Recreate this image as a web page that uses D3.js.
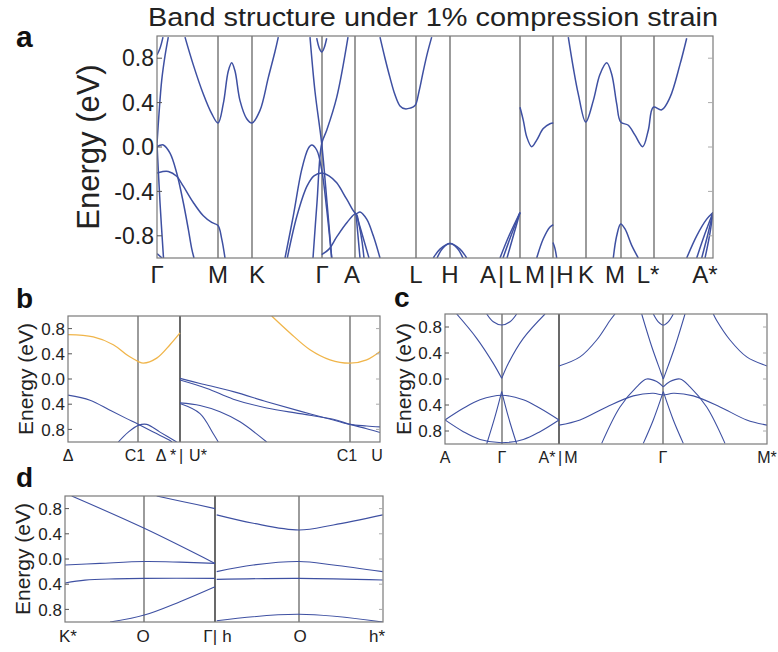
<!DOCTYPE html>
<html>
<head>
<meta charset="utf-8">
<script src="https://cdn.jsdelivr.net/npm/d3@7"></script>
<style>
  body { margin: 0; background: #fff; }
  svg { display: block; font-family: "Liberation Sans", Arial, sans-serif; }
</style>
</head>
<body>
<div id="chart"></div>
<script>
// ---- data (k = position along the k-path, E = energy in eV) ----
const yTicks = [-0.8, -0.4, 0, 0.4, 0.8];
const yTickLabelsA = ["-0.8", "-0.4", "0.0", "0.4", "0.8"];
const yTickLabelsSmall = ["0.8", "0.4", "0.0", "0.4", "0.8"];

// panel a
const kLinesA = [61, 95, 165, 198, 259, 293, 363, 396, 429, 464, 497];
const kLabelsA = [["Γ", 0], ["M", 61], ["K", 100], ["Γ", 165], ["A", 195], ["L", 259], ["H", 293],
  ["A", 331], ["|", 344], ["L", 358], ["M", 378], ["|", 395], ["H", 408], ["K", 429], ["M", 458],
  ["L*", 491], ["A*", 548]];
const bandsA = [
  // conduction band Γ-M-K-Γ
  [[28, 0.99], [36.3, 0.74], [46.3, 0.477], [54.7, 0.30], [61, 0.216], [66.3, 0.39], [71.3, 0.684],
   [74.7, 0.758], [78, 0.684], [83, 0.418], [89.7, 0.255], [95, 0.216], [103, 0.33], [111.3, 0.625],
   [118, 0.86], [121.3, 0.99]],
  [[0, 0.83], [3, 0.89], [6, 0.99]],
  [[0, 0.03], [2, 0.3], [4.7, 0.6], [8, 0.82], [11.3, 0.99]],
  [[0, 0.03], [3, -0.5], [6.5, -1.0]],
  [[0, 0.0], [3, 0.015], [6.3, 0.018], [13, -0.056], [19.7, -0.234], [26.3, -0.5], [31.3, -0.74],
   [34.7, -0.915], [37, -1.0]],
  [[0, -0.234], [5, -0.222], [11.3, -0.22], [19.7, -0.264], [26.3, -0.353], [36.3, -0.5], [46.3, -0.62],
   [54.7, -0.68], [61, -0.708], [64.7, -0.827], [68, -1.0]],
  [[0, -0.96], [5, -1.0]],
  // around Γ (middle)
  [[159.7, 0.98], [162.3, 0.89], [164.7, 0.856], [167, 0.89], [169.7, 0.98]],
  [[153, 0.99], [158, 0.5], [164.7, 0.03], [170, -0.5], [174.7, -1.0]],
  [[191, 0.99], [179.7, 0.447], [169.7, 0.15], [164.7, 0.03], [160, -0.5], [156, -1.0]],
  [[128, -1.0], [136.3, -0.62], [144.7, -0.204], [151.3, -0.012], [154.7, 0.018], [159.7, -0.027],
   [164.7, -0.204], [169.7, -0.56], [174.7, -1.0]],
  [[130.3, -1.0], [140, -0.62], [150, -0.353], [157, -0.26], [164.7, -0.234], [172, -0.26], [179.7, -0.323],
   [189.7, -0.47], [199, -0.6], [203, -0.585], [209.7, -0.65], [216.3, -0.8], [223, -1.0]],
  [[164.7, -0.97], [172, -0.92], [179.7, -0.81], [190, -0.68], [199, -0.6], [202, -0.7], [205, -0.85], [207, -1.0]],
  [[199, -0.6], [201, -0.8], [203, -1.0]],
  [[199, -0.6], [204, -0.75], [212, -1.0]],
  // A-L-H
  [[223, 0.99], [228, 0.8], [233, 0.625], [238, 0.47], [243, 0.37], [248, 0.344], [253, 0.35], [258, 0.373],
   [262, 0.5], [266.3, 0.684], [270.5, 0.85], [274.7, 0.99]],
  [[276.3, -1.0], [283, -0.92], [293, -0.87], [303, -0.92], [309.7, -1.0]],
  [[280, -1.0], [286, -0.91], [293, -0.87], [300, -0.91], [306, -1.0]],
  // A|L - M|H
  [[343, -1.0], [352, -0.8], [363, -0.59]],
  [[346, -1.0], [354, -0.8], [363, -0.59]],
  [[350, -1.0], [357, -0.78], [363, -0.59]],
  [[363, 0.358], [366.3, 0.24], [369.7, 0.092], [374.7, 0.003], [379.7, 0.062], [386.3, 0.166], [393, 0.21], [396.3, 0.216]],
  [[379.7, -1.0], [386.3, -0.827], [393, -0.72], [396.3, -0.70]],
  [[396, -0.86], [398, -0.916], [399.7, -1.0]],
  // H-K-M-L*-A*
  [[411.3, 0.99], [416.3, 0.714], [421.3, 0.477], [428.7, 0.225], [436.3, 0.418], [443, 0.655], [449.7, 0.758],
   [454.7, 0.655], [459.7, 0.388], [463.7, 0.225], [471.3, 0.196], [478, 0.107], [485.7, 0.003], [491.3, 0.151],
   [496.3, 0.358], [504.7, 0.335], [513, 0.447], [523, 0.744], [529.7, 0.98]],
  [[456.3, -1.0], [459.7, -0.8], [463.7, -0.693], [468, -0.738], [474.7, -0.886], [481.3, -1.0]],
  [[529.7, -1.0], [539.7, -0.8], [549.7, -0.65], [556, -0.59]],
  [[539.7, -1.0], [548, -0.78], [556, -0.59]],
  [[544.7, -1.0], [550.5, -0.8], [556, -0.59]],
  [[548, -1.0], [552.5, -0.8], [556, -0.59]]
];

// panel b
const kLinesB = [70, 112, 282];
const kLabelsB = [["Δ", 0], ["C1", 67], ["Δ *", 98], ["|", 113], ["U*", 130], ["C1", 279], ["U", 309]];
const bandsBOrange = [
  [[0, 0.704], [25.3, 0.667], [45.3, 0.544], [58.7, 0.384], [70.3, 0.277], [75.3, 0.251], [88.7, 0.331],
   [102, 0.544], [112, 0.731]],
  [[203.7, 1.0], [222, 0.731], [242, 0.464], [262, 0.304], [282, 0.251], [298.7, 0.304], [312, 0.437]]
];
const bandsB = [
  [[0, -0.256], [22, -0.336], [42, -0.496], [58.7, -0.629], [70.3, -0.72], [85.3, -0.843], [102, -0.976], [104, -1.0]],
  [[50.3, -1.0], [60.3, -0.843], [70.3, -0.736], [78.7, -0.72], [92, -0.843], [108.7, -1.0]],
  [[112, 0.01], [132, -0.07], [165.3, -0.2], [198.7, -0.36], [232, -0.51], [265.3, -0.65], [282, -0.72],
   [298.7, -0.745], [312, -0.76]],
  [[112, -0.016], [139, -0.15], [165.3, -0.32], [198.7, -0.46], [232, -0.55], [265.3, -0.64], [282, -0.72],
   [298.7, -0.79], [312, -0.85]],
  [[112, -0.379], [132, -0.42], [152, -0.52], [172, -0.68], [198.7, -1.0]],
  [[112, -0.39], [132, -0.549], [145.3, -0.869], [150.3, -1.0]]
];

// panel c
const kLinesC = [57, 114, 218];
const kLabelsC = [["A", 0], ["Γ", 57], ["A*", 102], ["|", 115], ["M", 126], ["Γ", 218], ["M*", 322]];
const bandsC = [
  [[41.7, 1.0], [48.3, 0.88], [56.7, 0.83], [65, 0.88], [71.7, 1.0]],
  [[11.7, 1.0], [31.7, 0.626], [48.3, 0.24], [56.7, 0.01]],
  [[100, 1.0], [78.3, 0.626], [63.3, 0.24], [56.7, 0.01]],
  [[0, -0.63], [18.3, -0.45], [35, -0.32], [56.7, -0.25], [78.3, -0.32], [95, -0.45], [114, -0.63]],
  [[0, -0.63], [18.3, -0.81], [35, -0.93], [56.7, -0.98], [78.3, -0.93], [95, -0.81], [114, -0.63]],
  [[56.7, -0.195], [50, -0.58], [41.7, -1.0]],
  [[56.7, -0.195], [63.3, -0.58], [71.7, -1.0]],
  [[114, 0.2], [135, 0.34], [151.7, 0.6], [165, 0.9], [170, 1.0]],
  [[322, 0.2], [301.7, 0.34], [285, 0.6], [271.7, 0.9], [268.3, 1.0]],
  [[208.3, 1.0], [213.3, 0.88], [218.3, 0.83], [223.3, 0.88], [228.3, 1.0]],
  [[196.7, 1.0], [206.7, 0.5], [215, 0.14], [218.3, 0.0]],
  [[240, 1.0], [230, 0.5], [221.7, 0.14], [218.3, 0.0]],
  [[156.7, -0.99], [175, -0.43], [191.7, -0.12], [201.7, 0.0], [211.7, -0.04], [218.3, -0.12]],
  [[218.3, -0.12], [225, -0.04], [235, 0.0], [245, -0.12], [261.7, -0.43], [280, -0.99]],
  [[114, -0.71], [135, -0.63], [161.7, -0.43], [188.3, -0.26], [208.3, -0.22], [218.3, -0.246], [228.3, -0.22],
   [248.3, -0.26], [275, -0.43], [301.7, -0.63], [322, -0.71]],
  [[218.3, -0.195], [208.3, -0.63], [198.3, -0.99]],
  [[218.3, -0.195], [228.3, -0.63], [238.3, -0.99]]
];

// panel d
const kLinesD = [79, 150, 234];
const kLabelsD = [["K*", 3], ["O", 78], ["Γ", 143], ["|", 150], ["h", 162], ["O", 235], ["h*", 312]];
const bandsD = [
  [[6.7, 1.0], [79.3, 0.487], [150, -0.07]],
  [[91.7, 1.0], [118.3, 0.91], [150, 0.80]],
  [[0, -0.095], [35, -0.07], [79.3, -0.04], [115, -0.05], [150, -0.07]],
  [[0, -0.38], [20, -0.335], [50, -0.315], [79.3, -0.307], [150, -0.307]],
  [[45, -1.0], [79.3, -0.889], [115, -0.677], [150, -0.44]],
  [[151.7, 0.70], [188.3, 0.567], [234, 0.46], [268.3, 0.54], [317.7, 0.70]],
  [[151.7, -0.2], [188.3, -0.095], [234, -0.04], [268.3, -0.095], [317.7, -0.2]],
  [[151.7, -0.323], [234, -0.307], [317.7, -0.333]],
  [[151.7, -0.98], [234, -0.878], [317.7, -1.0]]
];

// ---- drawing ----
const svg = d3.select("#chart").append("svg")
  .attr("width", 778)
  .attr("height", 652);

const blue = "#3e50a2";

function drawPanel(p) {
  const x = d3.scaleLinear().domain([0, p.kMax]).range([p.x0, p.x1]);
  const y = d3.scaleLinear().domain([-1, 1]).range([p.y1, p.y0]);
  const g = svg.append("g");

  svg.append("clipPath").attr("id", "clip-" + p.id)
    .append("rect")
    .attr("x", p.x0).attr("y", p.y0)
    .attr("width", p.x1 - p.x0).attr("height", p.y1 - p.y0);

  // high symmetry lines
  g.selectAll("line.sym")
    .data(p.kLines)
    .join("line")
    .attr("class", "sym")
    .attr("x1", d => x(d)).attr("x2", d => x(d))
    .attr("y1", p.y0).attr("y2", p.y1)
    .attr("stroke", d => d === p.divider ? "#444" : "#4a4a4a")
    .attr("stroke-width", d => d === p.divider ? 1.6 : 1.1);

  const line = d3.line()
    .x(d => x(d[0]))
    .y(d => y(d[1]))
    .curve(d3.curveCatmullRom.alpha(0.5));

  const bandG = g.append("g").attr("clip-path", "url(#clip-" + p.id + ")");
  bandG.selectAll("path.band")
    .data(p.bands)
    .join("path")
    .attr("class", "band")
    .attr("fill", "none")
    .attr("stroke", blue)
    .attr("stroke-width", p.lw)
    .attr("d", line);

  if (p.orange) {
    bandG.selectAll("path.orange")
      .data(p.orange)
      .join("path")
      .attr("class", "orange")
      .attr("fill", "none")
      .attr("stroke", "#f0b54a")
      .attr("stroke-width", p.lw + 0.2)
      .attr("d", line);
  }

  // frame
  g.append("rect")
    .attr("x", p.x0).attr("y", p.y0)
    .attr("width", p.x1 - p.x0).attr("height", p.y1 - p.y0)
    .attr("fill", "none")
    .attr("stroke", "#7a7a7a")
    .attr("stroke-width", 1.2);

  // ticks inward on both sides
  g.selectAll("line.tl")
    .data(yTicks)
    .join("line")
    .attr("class", "tl")
    .attr("x1", p.x0).attr("x2", p.x0 + p.tick)
    .attr("y1", d => y(d)).attr("y2", d => y(d))
    .attr("stroke", "#555");
  g.selectAll("line.tr")
    .data(yTicks)
    .join("line")
    .attr("class", "tr")
    .attr("x1", p.x1).attr("x2", p.x1 - p.tick)
    .attr("y1", d => y(d)).attr("y2", d => y(d))
    .attr("stroke", "#aaa");

  g.selectAll("text.yt")
    .data(yTicks)
    .join("text")
    .attr("class", "yt")
    .attr("x", p.x0 - 3)
    .attr("y", d => y(d))
    .attr("dy", "0.36em")
    .attr("text-anchor", "end")
    .attr("font-size", p.tickFont)
    .attr("fill", "#222")
    .text((d, i) => p.tickLabels[i]);

  g.selectAll("text.xl")
    .data(p.kLabels)
    .join("text")
    .attr("class", "xl")
    .attr("x", d => x(d[1]))
    .attr("y", p.labelY)
    .attr("text-anchor", "middle")
    .attr("font-size", p.labelFont)
    .attr("fill", "#222")
    .text(d => d[0]);

  g.append("text")
    .attr("transform", `translate(${p.titleX},${(p.y0 + p.y1) / 2}) rotate(-90)`)
    .attr("text-anchor", "middle")
    .attr("font-size", p.titleFont)
    .attr("fill", "#222")
    .text("Energy (eV)");

  g.append("text")
    .attr("x", p.letterX).attr("y", p.letterY)
    .attr("font-size", p.letterFont)
    .attr("font-weight", "bold")
    .attr("fill", "#111")
    .text(p.letter);
}

svg.append("text")
  .attr("x", 148).attr("y", 26)
  .attr("font-size", 25)
  .attr("textLength", 570)
  .attr("lengthAdjust", "spacingAndGlyphs")
  .attr("fill", "#222")
  .text("Band structure under 1% compression strain");

drawPanel({ id: "a", x0: 157, x1: 713, y0: 36, y1: 258, kMax: 556, kLines: kLinesA, divider: null,
  bands: bandsA, kLabels: kLabelsA, tickLabels: yTickLabelsA, lw: 1.5, tick: 5,
  tickFont: 23, labelFont: 24, labelY: 283, titleFont: 31, titleX: 99,
  letter: "a", letterX: 16, letterY: 47, letterFont: 30 });

drawPanel({ id: "b", x0: 68, x1: 380, y0: 316, y1: 442, kMax: 312, kLines: kLinesB, divider: 112,
  bands: bandsB, orange: bandsBOrange, kLabels: kLabelsB, tickLabels: yTickLabelsSmall, lw: 1.1, tick: 4,
  tickFont: 17, labelFont: 16, labelY: 461, titleFont: 21, titleX: 33,
  letter: "b", letterX: 16, letterY: 308, letterFont: 28 });

drawPanel({ id: "c", x0: 445, x1: 767, y0: 314, y1: 444, kMax: 322, kLines: kLinesC, divider: 114,
  bands: bandsC, kLabels: kLabelsC, tickLabels: yTickLabelsSmall, lw: 1.1, tick: 4,
  tickFont: 17, labelFont: 16, labelY: 463, titleFont: 21, titleX: 411,
  letter: "c", letterX: 394, letterY: 307, letterFont: 28 });

drawPanel({ id: "d", x0: 65, x1: 383, y0: 496, y1: 622, kMax: 318, kLines: kLinesD, divider: 150,
  bands: bandsD, kLabels: kLabelsD, tickLabels: yTickLabelsSmall, lw: 1.1, tick: 4,
  tickFont: 17, labelFont: 17, labelY: 642, titleFont: 21, titleX: 30,
  letter: "d", letterX: 16, letterY: 487, letterFont: 28 });
</script>
</body>
</html>
